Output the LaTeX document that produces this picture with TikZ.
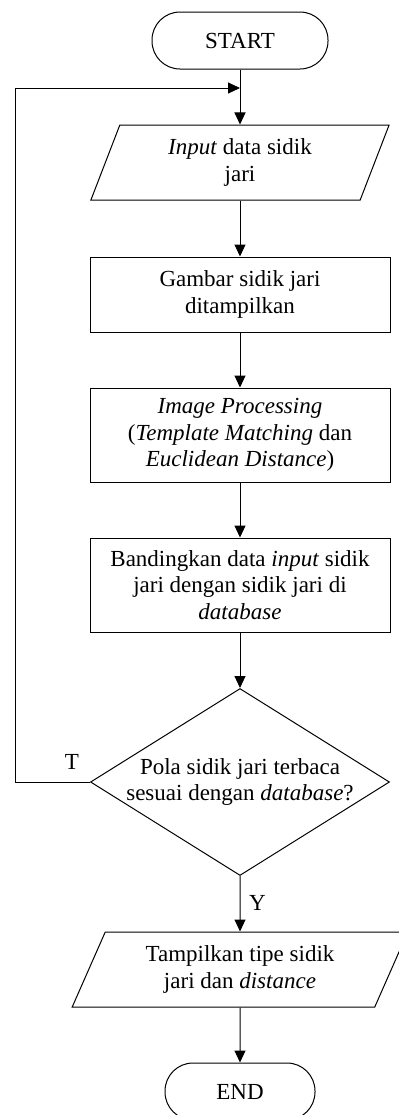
\documentclass[tikz,border=0pt]{standalone}
\usepackage{fontspec}
\setmainfont{Liberation Serif}
\usetikzlibrary{arrows.meta,shapes}

\tikzset{
  term/.style={draw,rectangle,rounded corners=14pt,minimum height=28.5pt},
  io/.style={draw,trapezium,trapezium stretches=true,minimum height=37.5pt,align=center,inner sep=0pt},
  proc/.style={draw,rectangle,minimum width=150pt,align=center},
  cond/.style={draw,diamond,aspect=1.6,minimum width=149.5pt,minimum height=93.5pt,align=center,inner sep=-1.5pt}
}

\begin{document}
\begin{tikzpicture}[font=\fontsize{11.5}{13.3}\selectfont,line width=0.5pt,>={Triangle[length=6pt,width=5.5pt]}]
\useasboundingbox (0pt,0pt) rectangle (199pt,-557.5pt);

\node (start) at (120pt,-20.25pt)[term,minimum width=88pt] {START};
\node (input) at (120pt,-81.25pt)[io,minimum width=149.5pt,trapezium left angle=70,trapezium right angle=110] {\textit{Input} data sidik\\jari};
\node (tampil) at (120pt,-147.25pt)[proc,minimum height=37.5pt] {Gambar sidik jari\\ditampilkan};
\node (proses) at (120pt,-217.5pt)[proc,minimum height=47pt] {\textit{Image Processing}\\(\textit{Template Matching} dan\\\textit{Euclidean Distance})};
\node (banding) at (120pt,-292.5pt)[proc,minimum height=47pt] {Bandingkan data \textit{input} sidik\\jari dengan sidik jari di\\\textit{database}};
\node (cek) at (120pt,-391pt)[cond] {Pola sidik jari terbaca\\sesuai dengan \textit{database}?};
\node (hasil) at (120pt,-484.75pt)[io,minimum width=168pt,trapezium left angle=64,trapezium right angle=116] {Tampilkan tipe sidik\\jari dan \textit{distance}};
\node (selesai) at (120pt,-545.75pt)[term,minimum width=75pt] {END};
\coordinate (balik) at (120pt,-44pt);

\draw [->] (start) -- (input);
\draw [->] (input) -- (tampil);
\draw [->] (tampil) -- (proses);
\draw [->] (proses) -- (banding);
\draw [->] (banding) -- (cek);
\draw [->] (cek) -- node[right,pos=0.49,xshift=1pt] {Y} (hasil);
\draw [->] (hasil) -- (selesai);
\draw [->] (cek.west) -- node[pos=0.24,above,yshift=2.5pt] {T} ++(-37.5pt,0) |- (balik);
\end{tikzpicture}
\end{document}
